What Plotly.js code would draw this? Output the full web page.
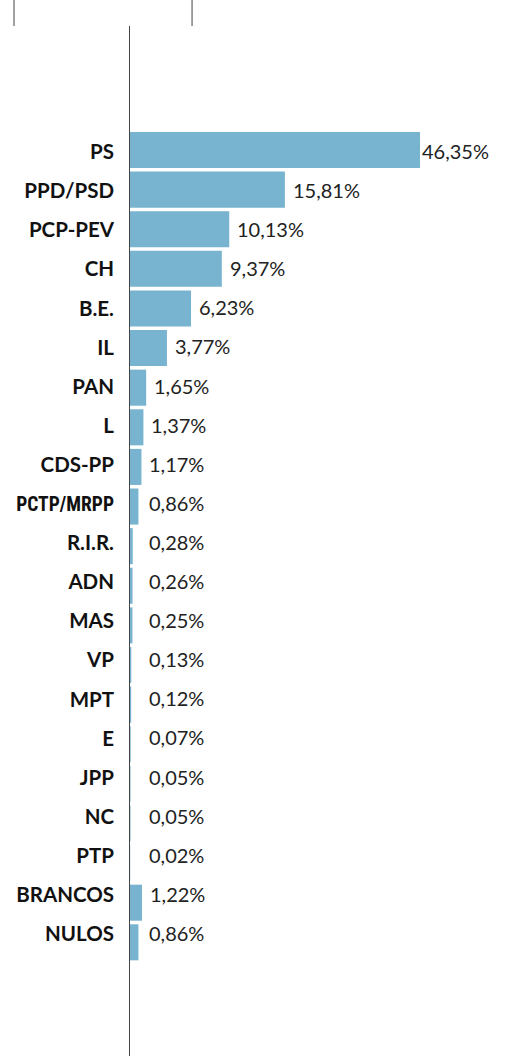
<!DOCTYPE html>
<html>
<head>
<meta charset="utf-8">
<script src="https://cdn.plot.ly/plotly-3.0.1.min.js"></script>
<style>
  html, body { margin: 0; padding: 0; background: #fff; }
  #chart { width: 516px; height: 1056px; }
</style>
</head>
<body>
<div id="chart"></div>
<script>
const categories = ['PS','PPD/PSD','PCP-PEV','CH','B.E.','IL','PAN','L','CDS-PP','PCTP/MRPP','R.I.R.','ADN','MAS','VP','MPT','E','JPP','NC','PTP','BRANCOS','NULOS'];
const values = [46.35,15.81,10.13,9.37,6.23,3.77,1.65,1.37,1.17,0.86,0.28,0.26,0.25,0.13,0.12,0.07,0.05,0.05,0.02,1.22,0.86];
const valueLabels = values.map(v => v.toFixed(2).replace('.', ',') + '%');

const XMAX = 29.6;
const MIN_LABEL_X = 1.12;
const barColor = '#78b3cf';
const lineColor = '#444444';
const rowIndex = categories.map((c, i) => i);

const tickText = categories.map(c => c === 'PCTP/MRPP'
  ? '<span style="font-family:\'Liberation Sans Narrow\', \'Roboto Condensed\', sans-serif;font-weight:bold;font-size:19.5px">' + c + '</span>' : c);

const bars = {
  type: 'bar',
  orientation: 'h',
  y: categories,
  x: values,
  marker: { color: barColor, line: { width: 0 } },
  hoverinfo: 'skip'
};

// invisible helper trace binding the label axis (y2) to the rows
const labelRows = {
  type: 'scatter',
  mode: 'none',
  x: values,
  y: rowIndex,
  yaxis: 'y2',
  hoverinfo: 'skip',
  showlegend: false
};

const annotations = categories.map((c, i) => ({
  x: Math.min(Math.max(values[i], MIN_LABEL_X), XMAX),
  y: rowIndex[i],
  xref: 'x', yref: 'y2',
  text: valueLabels[i],
  showarrow: false,
  xanchor: 'left',
  yanchor: 'middle',
  xshift: values[i] > XMAX ? 0 : 6,
  yshift: 1,
  font: { family: 'Lato, sans-serif', size: 20, color: '#222222' }
}));

const layout = {
  width: 516,
  height: 1056,
  margin: { l: 130, r: 96, t: 26, b: 0, pad: 0 },
  paper_bgcolor: '#ffffff',
  plot_bgcolor: '#ffffff',
  showlegend: false,
  bargap: 0.09,
  xaxis: {
    range: [0, XMAX],
    showgrid: false, zeroline: false, showticklabels: false, showline: false, ticks: ''
  },
  yaxis: {
    type: 'category',
    range: [22.87, -3.13],
    showgrid: false, zeroline: false, showticklabels: false,
    showline: true, linecolor: lineColor, linewidth: 1,
    ticks: ''
  },
  yaxis2: {
    overlaying: 'y',
    side: 'left',
    range: [23.12, -3.22],
    tickmode: 'array',
    tickvals: rowIndex,
    ticktext: tickText,
    showgrid: false, zeroline: false, showline: false,
    ticks: '',
    ticklabelstandoff: 15,
    tickfont: { family: 'Lato, sans-serif', size: 20.5, color: '#111111', weight: 'bold' }
  },
  annotations: annotations,
  shapes: [
    { type: 'line', xref: 'paper', yref: 'paper', x0: -0.4, x1: -0.4, y0: 1, y1: 1.03,
      line: { color: lineColor, width: 1 } },
    { type: 'line', xref: 'paper', yref: 'paper', x0: 0.214, x1: 0.214, y0: 1, y1: 1.03,
      line: { color: lineColor, width: 1 } }
  ]
};

Plotly.newPlot('chart', [bars, labelRows], layout, { staticPlot: true, displayModeBar: false });
</script>
</body>
</html>
